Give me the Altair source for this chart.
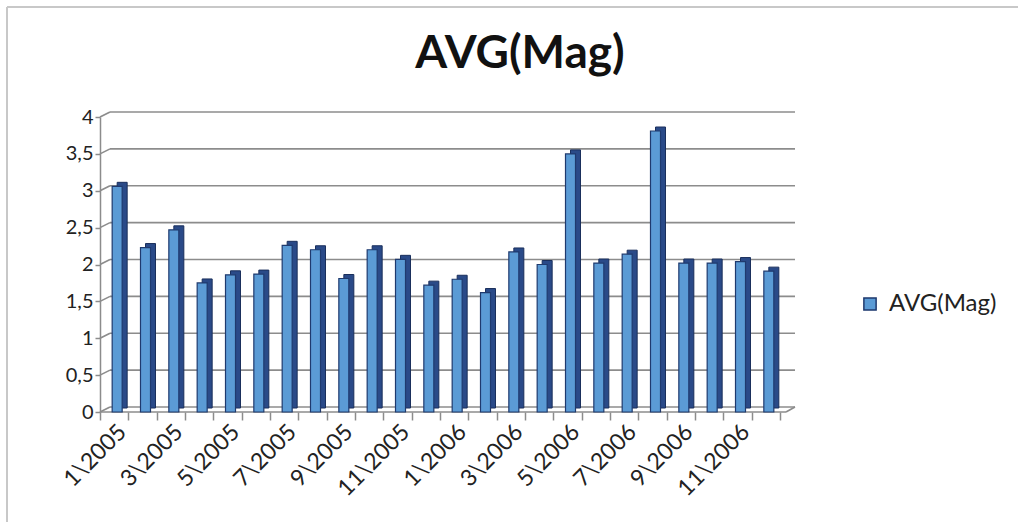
import json

import altair as alt
import pandas as pd

# Monthly average magnitude, Jan 2005 - Dec 2006
months = [
    "1\\2005", "2\\2005", "3\\2005", "4\\2005", "5\\2005", "6\\2005",
    "7\\2005", "8\\2005", "9\\2005", "10\\2005", "11\\2005", "12\\2005",
    "1\\2006", "2\\2006", "3\\2006", "4\\2006", "5\\2006", "6\\2006",
    "7\\2006", "8\\2006", "9\\2006", "10\\2006", "11\\2006", "12\\2006",
]
avg_mag = [
    3.06, 2.23, 2.47, 1.75, 1.86, 1.87, 2.26, 2.20, 1.81, 2.20, 2.07, 1.72,
    1.80, 1.62, 2.17, 2.00, 3.50, 2.02, 2.14, 3.81, 2.02, 2.02, 2.04, 1.91,
]
series_name = "AVG(Mag)"
chart_title = "AVG(Mag)"
y_ticks = [0, 0.5, 1, 1.5, 2, 2.5, 3, 3.5, 4]
shown_months = [
    "1\\2005", "3\\2005", "5\\2005", "7\\2005", "9\\2005", "11\\2005",
    "1\\2006", "3\\2006", "5\\2006", "7\\2006", "9\\2006", "11\\2006",
]

bars = pd.DataFrame({"month": months, "avg": avg_mag, "series": series_name})
grid = pd.DataFrame({"v": y_ticks})
one = pd.DataFrame({"title": [chart_title]})

W, H = 680, 295
PAD = {"left": 100, "top": 117, "right": 238, "bottom": 110}
FONT = "Lato"
GRID = "#8c8c8c"
FRONT = "#5b9bd5"
SIDE = "#2a4a88"
EDGE = "#1f3a6e"
TEXT = "#222222"

x_enc = alt.X(
    "month:N",
    sort=months,
    title=None,
    scale=alt.Scale(paddingInner=0, paddingOuter=0),
    axis=alt.Axis(
        tickBand="extent",
        tickSize=8,
        tickColor=GRID,
        tickWidth=1.5,
        domain=False,
        labelAngle=315,
        labelAlign="right",
        labelBaseline="middle",
        labelOffset=8,
        labelPadding=8,
        labelFont=FONT,
        labelFontSize=23,
        labelColor=TEXT,
        labelOverlap=False,
        labelBound=False,
        labelExpr=f"indexof({json.dumps(shown_months)}, datum.value) >= 0 ? datum.value : ''",
    ),
)
y_scale = alt.Scale(domain=[0, 4])
# decimal comma on the value axis
y_axis = alt.Axis(
    title=None,
    values=y_ticks,
    grid=False,
    domainColor=GRID,
    domainWidth=1.5,
    tickColor=GRID,
    tickWidth=1.5,
    tickSize=5,
    labelFont=FONT,
    labelFontSize=20,
    labelColor=TEXT,
    labelPadding=2,
    labelOverlap=False,
    labelBound=False,
    labelFlush=False,
    labelExpr="datum.value == floor(datum.value) ? '' + datum.value : floor(datum.value) + ',5'",
)


def y_enc(field):
    return alt.Y(field, scale=y_scale, axis=y_axis)


# back wall gridlines with a short perspective step from the axis
wall = alt.Chart(grid).mark_rule(color=GRID, strokeWidth=1.6, yOffset=-5).encode(
    y=y_enc("v:Q"),
    x=alt.value(10),
    x2=alt.value(695),
)
step = alt.Chart(grid).mark_rule(color=GRID, strokeWidth=1.6, y2Offset=-5).encode(
    y=y_enc("v:Q"),
    y2=alt.Y2("v"),
    x=alt.value(0),
    x2=alt.value(10),
)
floor_front = alt.Chart(grid).transform_filter("datum.v == 0").mark_rule(
    color=GRID, strokeWidth=1.6
).encode(y=y_enc("v:Q"), x=alt.value(0), x2=alt.value(686))
floor_side = alt.Chart(grid).transform_filter("datum.v == 0").mark_rule(
    color=GRID, strokeWidth=1.6, y2Offset=-5
).encode(y=y_enc("v:Q"), y2=alt.Y2("v"), x=alt.value(686), x2=alt.value(695))

# column depth: a darker block set back behind each front face
side = alt.Chart(bars).mark_bar(
    size=10, xOffset=8, yOffset=-4, color=SIDE, stroke="#1a2f5c", strokeWidth=1
).encode(x=x_enc, y=y_enc("avg:Q"))

front = alt.Chart(bars).mark_bar(
    size=10, xOffset=3, stroke=EDGE, strokeWidth=1.2
).encode(
    x=x_enc,
    y=y_enc("avg:Q"),
    color=alt.Color(
        "series:N",
        scale=alt.Scale(range=[FRONT]),
        legend=alt.Legend(
            title=None,
            orient="none",
            legendX=758,
            legendY=175,
            symbolType="square",
            symbolSize=150,
            symbolStrokeColor=EDGE,
            symbolStrokeWidth=1.5,
            labelFont=FONT,
            labelFontSize=24,
            labelColor=TEXT,
            labelOffset=7,
        ),
    ),
)

# chart heading, centred on the full canvas
heading = alt.Chart(one).mark_text(
    font=FONT, fontSize=46, fontWeight="bold", color="#111111",
    align="center", baseline="alphabetic",
).encode(text="title:N", x=alt.value(420), y=alt.value(-49))

# outer chart frame (top and left edges)
frame_top = alt.Chart(one).mark_rule(color="#c8c8c8", strokeWidth=2).encode(
    x=alt.value(-93), x2=alt.value(918), y=alt.value(-110)
)
frame_left = alt.Chart(one).mark_rule(color="#c8c8c8", strokeWidth=2).encode(
    x=alt.value(-93), y=alt.value(-110), y2=alt.value(405)
)

chart = (
    alt.layer(frame_top, frame_left, heading, wall, step, floor_front, floor_side, side, front)
    .properties(
        width=W,
        height=H,
        padding=PAD,
        autosize=alt.AutoSizeParams(type="none"),
        background="white",
    )
    .configure_view(stroke=None)
)

chart.save("out.html", embed_options={"renderer": "svg", "actions": False})
